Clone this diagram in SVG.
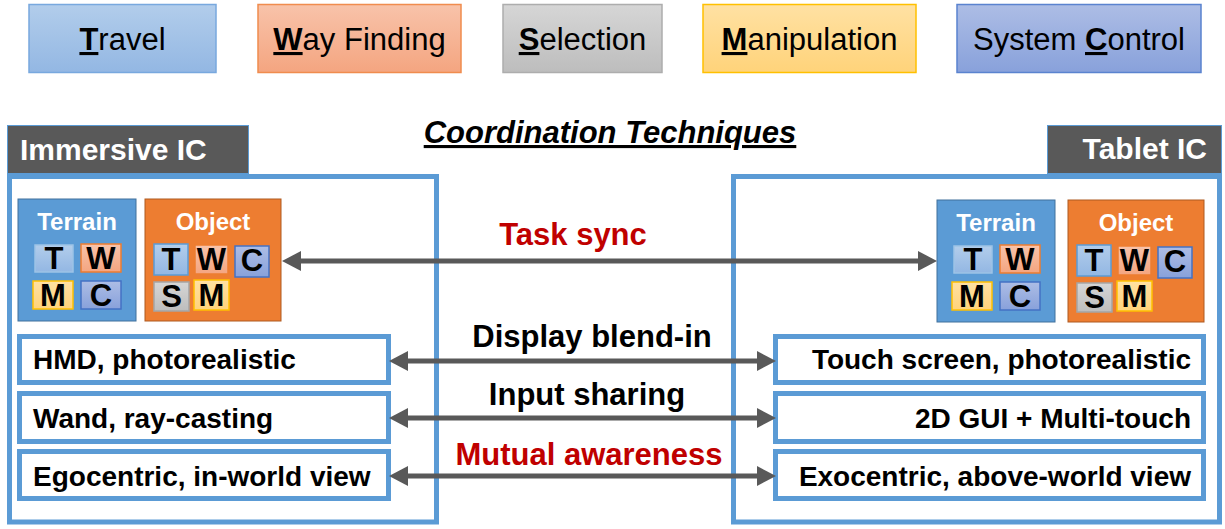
<svg xmlns="http://www.w3.org/2000/svg" width="1225" height="529" viewBox="0 0 1225 529">
<defs>
  <linearGradient id="gT" x1="0" y1="0" x2="0" y2="1"><stop offset="0" stop-color="#b2cdeb"/><stop offset="1" stop-color="#93b7e3"/></linearGradient>
  <linearGradient id="gW" x1="0" y1="0" x2="0" y2="1"><stop offset="0" stop-color="#f8c3aa"/><stop offset="1" stop-color="#f4a580"/></linearGradient>
  <linearGradient id="gS" x1="0" y1="0" x2="0" y2="1"><stop offset="0" stop-color="#d6d6d6"/><stop offset="1" stop-color="#bdbdbd"/></linearGradient>
  <linearGradient id="gM" x1="0" y1="0" x2="0" y2="1"><stop offset="0" stop-color="#ffe1a3"/><stop offset="1" stop-color="#ffd37a"/></linearGradient>
  <linearGradient id="gC" x1="0" y1="0" x2="0" y2="1"><stop offset="0" stop-color="#adbde5"/><stop offset="1" stop-color="#88a1db"/></linearGradient>
  <marker id="ah" markerUnits="userSpaceOnUse" markerWidth="20" markerHeight="22" refX="13" refY="10" orient="auto-start-reverse">
    <path d="M0,0 L19,10 L0,20 Z" fill="#595959"/>
  </marker>
</defs>
<style>
  text { font-family: "Liberation Sans", Arial, sans-serif; }
  .leg { font-size: 31px; fill: #000; text-anchor: middle; }
  .b { font-weight: bold; }
  .u { text-decoration: underline; }
  .lt { stroke-width: 1.5; }
  .tT { fill: url(#gT); stroke: #9dc3e6; }
  .tW { fill: url(#gW); stroke: #ed7d31; }
  .tS { fill: url(#gS); stroke: #a5a5a5; }
  .tM { fill: url(#gM); stroke: #ffc000; }
  .tC { fill: url(#gC); stroke: #4472c4; }
  .frame { fill: none; stroke: #5b9bd5; stroke-width: 5; }
  .row { fill: #fff; stroke: #5b9bd5; stroke-width: 5; }
  .rowtxt { font-size: 28px; font-weight: bold; fill: #000; }
  .hdr { fill: #595959; stroke: #5b9bd5; stroke-width: 1; }
  .hdrtxt { font-size: 30px; font-weight: bold; fill: #fff; }
  .grp { font-size: 24px; font-weight: bold; fill: #fff; text-anchor: middle; }
  .ltr { font-size: 31px; font-weight: bold; fill: #000; text-anchor: middle; }
  .lbl { font-size: 31px; font-weight: bold; text-anchor: middle; }
  .red { fill: #c00000; }
  .blk { fill: #000; }
  .conn { stroke: #595959; stroke-width: 5; fill: none; marker-start: url(#ah); marker-end: url(#ah); }
</style>

<!-- Legend -->
<g id="legend-travel">
  <rect x="29" y="4.5" width="187" height="68" fill="url(#gT)" stroke="#78a8de" stroke-width="1.5"/>
  <text class="leg" x="122.5" y="50"><tspan class="b u">T</tspan>ravel</text>
</g>
<g id="legend-wayfinding">
  <rect x="258" y="4.5" width="203" height="68" fill="url(#gW)" stroke="#f08c4e" stroke-width="1.5"/>
  <text class="leg" x="359.5" y="50"><tspan class="b u">W</tspan>ay Finding</text>
</g>
<g id="legend-selection">
  <rect x="503" y="4.5" width="159" height="68" fill="url(#gS)" stroke="#adadad" stroke-width="1.5"/>
  <text class="leg" x="582.5" y="50"><tspan class="b u">S</tspan>election</text>
</g>
<g id="legend-manipulation">
  <rect x="703" y="4.5" width="213" height="68" fill="url(#gM)" stroke="#ffc000" stroke-width="1.5"/>
  <text class="leg" x="809.5" y="50"><tspan class="b u">M</tspan>anipulation</text>
</g>
<g id="legend-systemcontrol">
  <rect x="957" y="4.5" width="244" height="68" fill="url(#gC)" stroke="#5a83cf" stroke-width="1.5"/>
  <text class="leg" x="1079" y="50">System <tspan class="b u">C</tspan>ontrol</text>
</g>

<!-- Title -->
<g id="title">
  <text x="610" y="143" text-anchor="middle" font-size="31" font-weight="bold" font-style="italic" text-decoration="underline" fill="#000">Coordination Techniques</text>
</g>

<!-- Immersive IC -->
<g id="immersive-ic">
  <rect class="hdr" x="7.5" y="125.5" width="241" height="48"/>
  <text class="hdrtxt" x="20" y="160">Immersive IC</text>
  <rect class="frame" x="9.5" y="176.5" width="427" height="345.5"/>
</g>

<!-- Tablet IC -->
<g id="tablet-ic">
  <rect class="hdr" x="1047.5" y="125.5" width="174" height="48"/>
  <text class="hdrtxt" x="1207" y="159" text-anchor="end">Tablet IC</text>
  <rect class="frame" x="733.5" y="176.5" width="486" height="345.5"/>
</g>

<!-- Left Terrain -->
<g id="imm-terrain">
  <rect x="18" y="199" width="118" height="122" fill="#5b9bd5" stroke="#41719c" stroke-width="1"/>
  <text class="grp" x="77" y="230">Terrain</text>
  <rect class="tT lt" x="35" y="245" width="38" height="27"/><text class="ltr" x="54" y="269">T</text>
  <rect class="tW lt" x="81" y="244" width="40" height="28"/><text class="ltr" x="101" y="269">W</text>
  <rect class="tM lt" x="33" y="281" width="40" height="28"/><text class="ltr" x="53" y="306">M</text>
  <rect class="tC lt" x="81" y="281" width="40" height="28"/><text class="ltr" x="101" y="306">C</text>
</g>
<!-- Left Object -->
<g id="imm-object">
  <rect x="145" y="199" width="136" height="122" fill="#ed7d31" stroke="#ae5a21" stroke-width="1"/>
  <text class="grp" x="213" y="230">Object</text>
  <rect class="tT lt" x="154" y="244" width="34" height="31" style="stroke:#5b9bd5"/><text class="ltr" x="171" y="270">T</text>
  <rect class="tW lt" x="195" y="245" width="33" height="29"/><text class="ltr" x="211.5" y="270">W</text>
  <rect class="tC lt" x="235" y="246" width="34" height="31"/><text class="ltr" x="252" y="271">C</text>
  <rect class="tS lt" x="154" y="282" width="35" height="29"/><text class="ltr" x="171.5" y="307">S</text>
  <rect class="tM lt" x="194" y="280" width="35" height="30"/><text class="ltr" x="211.5" y="306">M</text>
</g>

<!-- Right Terrain -->
<g id="tab-terrain" transform="translate(919,1)">
  <rect x="18" y="199" width="118" height="122" fill="#5b9bd5" stroke="#41719c" stroke-width="1"/>
  <text class="grp" x="77" y="230">Terrain</text>
  <rect class="tT lt" x="35" y="245" width="38" height="27"/><text class="ltr" x="54" y="269">T</text>
  <rect class="tW lt" x="81" y="244" width="40" height="28"/><text class="ltr" x="101" y="269">W</text>
  <rect class="tM lt" x="33" y="281" width="40" height="28"/><text class="ltr" x="53" y="306">M</text>
  <rect class="tC lt" x="81" y="281" width="40" height="28"/><text class="ltr" x="101" y="306">C</text>
</g>
<!-- Right Object -->
<g id="tab-object" transform="translate(923,1)">
  <rect x="145" y="199" width="136" height="122" fill="#ed7d31" stroke="#ae5a21" stroke-width="1"/>
  <text class="grp" x="213" y="230">Object</text>
  <rect class="tT lt" x="154" y="244" width="34" height="31" style="stroke:#5b9bd5"/><text class="ltr" x="171" y="270">T</text>
  <rect class="tW lt" x="195" y="245" width="33" height="29"/><text class="ltr" x="211.5" y="270">W</text>
  <rect class="tC lt" x="235" y="246" width="34" height="31"/><text class="ltr" x="252" y="271">C</text>
  <rect class="tS lt" x="154" y="282" width="35" height="29"/><text class="ltr" x="171.5" y="307">S</text>
  <rect class="tM lt" x="194" y="280" width="35" height="30"/><text class="ltr" x="211.5" y="306">M</text>
</g>

<!-- Left rows -->
<g id="imm-display">
  <rect class="row" x="19.5" y="336.5" width="369" height="46"/>
  <text class="rowtxt" x="33" y="369">HMD, photorealistic</text>
</g>
<g id="imm-input">
  <rect class="row" x="19.5" y="393.5" width="369" height="48"/>
  <text class="rowtxt" x="33" y="428">Wand, ray-casting</text>
</g>
<g id="imm-awareness">
  <rect class="row" x="19.5" y="451.5" width="369" height="47"/>
  <text class="rowtxt" x="33" y="486">Egocentric, in-world view</text>
</g>

<!-- Right rows -->
<g id="tab-display">
  <rect class="row" x="775.5" y="336.5" width="428" height="46"/>
  <text class="rowtxt" x="1191" y="369" text-anchor="end">Touch screen, photorealistic</text>
</g>
<g id="tab-input">
  <rect class="row" x="775.5" y="393.5" width="428" height="48"/>
  <text class="rowtxt" x="1191" y="428" text-anchor="end">2D GUI + Multi-touch</text>
</g>
<g id="tab-awareness">
  <rect class="row" x="775.5" y="451.5" width="428" height="47"/>
  <text class="rowtxt" x="1191" y="486" text-anchor="end">Exocentric, above-world view</text>
</g>

<!-- Connectors -->
<g id="connectors">
  <line class="conn" x1="288" y1="261" x2="931" y2="261"/>
  <text class="lbl red" x="573" y="245">Task sync</text>
  <line class="conn" x1="395" y1="361" x2="770" y2="361"/>
  <text class="lbl blk" x="592" y="347">Display blend-in</text>
  <line class="conn" x1="395" y1="418" x2="770" y2="418"/>
  <text class="lbl blk" x="587" y="405">Input sharing</text>
  <line class="conn" x1="395" y1="476" x2="770" y2="476"/>
  <text class="lbl red" x="589" y="465">Mutual awareness</text>
</g>
</svg>
